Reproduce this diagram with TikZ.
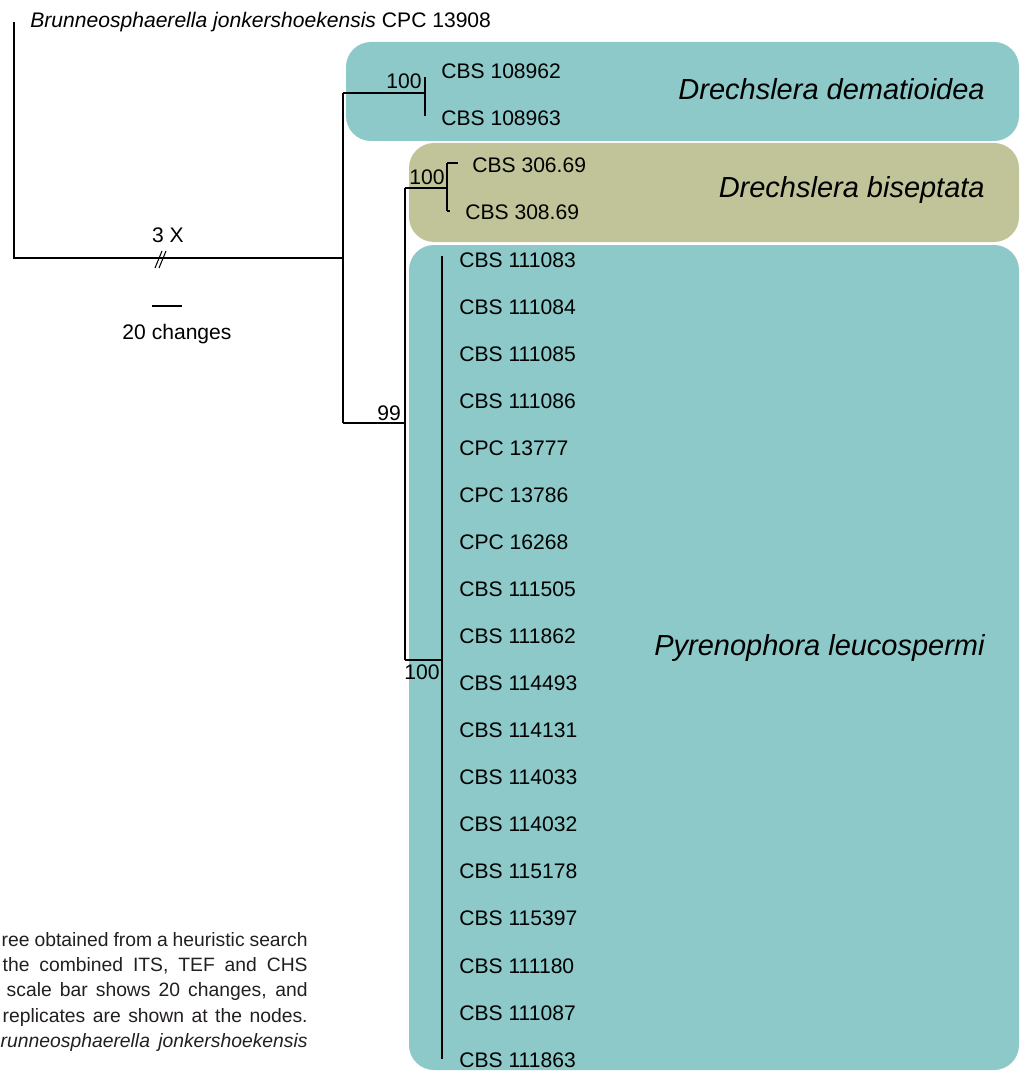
\documentclass[tikz,border=0pt]{standalone}
\usepackage{fontspec}
\setmainfont{Liberation Sans}
\usepackage{tikz}
\tikzset{>=latex}
\usetikzlibrary{calc}
\definecolor{tealbox}{RGB}{140,201,200}
\definecolor{olivebox}{RGB}{192,196,152}
\definecolor{captiongray}{RGB}{35,31,32}

\begin{document}
\begin{tikzpicture}[x=0.02cm,y=-0.02cm,
    branch/.style={line width=1.1pt},
    tip/.style={anchor=west,font=\fontsize{12}{14}\selectfont,inner sep=0pt},
    boot/.style={font=\fontsize{12}{14}\selectfont,inner sep=0pt},
    clade/.style={anchor=east,font=\fontsize{16.5}{20}\selectfont\itshape,inner sep=0pt},
    capline/.style={anchor=east,font=\fontsize{11}{13}\selectfont,text=captiongray,inner sep=0pt}]

    \useasboundingbox (0,0) rectangle (1019,1071);

    % clade boxes
    \fill[tealbox,rounded corners=0.5cm] (346,42) rectangle (1019,141);
    \fill[olivebox,rounded corners=0.5cm] (409,143) rectangle (1019,242);
    \fill[tealbox,rounded corners=0.5cm] (409,245) rectangle (1019,1070);

    % internal nodes
    \coordinate (rootTop) at (14,22);
    \coordinate (root) at (14,258);
    \coordinate (n1) at (343,258);
    \coordinate (n1up) at (343,93);
    \coordinate (n1dn) at (343,423);
    \coordinate (dema) at (425,93);
    \coordinate (dema1) at (425,77);
    \coordinate (dema2) at (425,116);
    \coordinate (n2) at (405,423);
    \coordinate (n2up) at (405,188);
    \coordinate (n2dn) at (405,660);
    \coordinate (bise) at (447,188);
    \coordinate (bise1) at (447,163);
    \coordinate (bise2) at (447,211);
    \coordinate (leuc) at (442,660);
    \coordinate (leuc1) at (442,256);
    \coordinate (leuc2) at (442,1059);

    % branches
    \draw[branch] (rootTop) -- (root) -- (n1);
    \draw[branch] (n1up) -- (n1dn);
    \draw[branch] (n1up) -- (dema);
    \draw[branch] (dema1) -- (dema2);
    \draw[branch] (n1dn) -- (n2);
    \draw[branch] (n2up) -- (n2dn);
    \draw[branch] (n2up) -- (bise);
    \draw[branch] (bise1) -- (bise2);
    \draw[branch] (bise1) -- ++(11,0);
    \draw[branch] (bise2) -- ++(3,0);
    \draw[branch] (n2dn) -- (leuc);
    \draw[branch] (leuc1) -- (leuc2);

    % break on the long branch
    \draw[line width=0.6pt] (155,268) -- (162,251);
    \draw[line width=0.6pt] (159,268) -- (166,251);
    \node[boot] (brk) at (168,235) {3 X};

    % scale bar
    \coordinate (sb1) at (152,306);
    \coordinate (sb2) at (182,306);
    \draw[branch] (sb1) -- (sb2);
    \node[boot] (sbl) at (177,334) {20 changes};

    % bootstrap values
    \node[boot] (b1) at (404,81) {100};
    \node[boot] (b2) at (427,177) {100};
    \node[boot] (b3) at (389,413) {99};
    \node[boot] (b4) at (422,672) {100};

    % taxa
    \node[tip] (og) at (30,22) {\textit{Brunneosphaerella jonkershoekensis} CPC 13908};
    \node[tip] (d1) at (441,71) {CBS 108962};
    \node[tip] (d2) at (441,118) {CBS 108963};
    \node[tip] (s1) at (472,165) {CBS 306.69};
    \node[tip] (s2) at (465,212) {CBS 308.69};
    \foreach \lab [count=\i from 0] in {CBS 111083,CBS 111084,CBS 111085,CBS 111086,
        CPC 13777,CPC 13786,CPC 16268,CBS 111505,CBS 111862,CBS 114493,CBS 114131,
        CBS 114033,CBS 114032,CBS 115178,CBS 115397,CBS 111180,CBS 111087,CBS 111863}
        \node[tip] (t\i) at (459,260+47.05*\i) {\lab};

    % clade names
    \node[clade] (cDem) at (985,89) {Drechslera dematioidea};
    \node[clade] (cBis) at (985,190) {Drechslera biseptata};
    \node[clade] (cLeu) at (985,648) {Pyrenophora leucospermi};

    % caption (cut at the left)
    \node[capline] (cap1) at (308,940) {\makebox[6.12cm][s]{ree obtained from a heuristic search}};
    \node[capline] (cap2) at (308,966) {\makebox[6.10cm][s]{the combined ITS, TEF and CHS}};
    \node[capline] (cap3) at (308,991) {\makebox[6.02cm][s]{scale bar shows 20 changes, and}};
    \node[capline] (cap4) at (308,1017) {\makebox[6.10cm][s]{replicates are shown at the nodes.}};
    \node[capline] (cap5) at (308,1042) {\makebox[6.14cm][s]{\itshape runneosphaerella jonkershoekensis}};

\end{tikzpicture}
\end{document}
